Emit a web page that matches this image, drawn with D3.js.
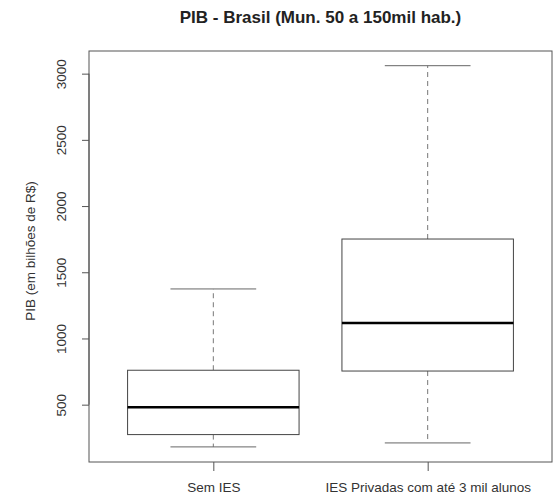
<!DOCTYPE html>
<html>
<head>
<meta charset="utf-8">
<script src="https://cdn.jsdelivr.net/npm/d3@7"></script>
<style>
  body { margin: 0; background: white; }
  text { font-family: "Liberation Sans", Arial, sans-serif; fill: #222; }
</style>
</head>
<body>
<script>
// Data
const categories = ['Sem IES', 'IES Privadas com até 3 mil alunos']
const whiskerLow = [181, 211]
const q1 = [274, 754]
const medians = [480, 1117]
const q3 = [760, 1751]
const whiskerHigh = [1374, 3060]
const yTicks = [500, 1000, 1500, 2000, 2500, 3000]

const W = 558, H = 498
const margin = { top: 51, right: 6, bottom: 36, left: 89 }
const width = W - margin.left - margin.right
const height = H - margin.top - margin.bottom
const font = '"Liberation Sans", Arial, sans-serif'

const svg = d3.select('body').append('svg')
    .attr('width', W)
    .attr('height', H)

const g = svg.append('g')
    .attr('transform', `translate(${margin.left} ${margin.top})`)

// Scales (R style, 4% padding)
const xScale = d3.scaleLinear()
    .domain([0.42, 2.58])
    .range([0, width])

const yScale = d3.scaleLinear()
    .domain([67, 3171])
    .range([height, 0])

const boxW = xScale(1.4) - xScale(1)
const capW = xScale(1.2) - xScale(1)

// Plot frame
g.append('rect')
    .attr('x', 0).attr('y', 0)
    .attr('width', width).attr('height', height)
    .style('fill', 'none')
    .style('stroke', '#555')
    .style('stroke-width', 1)

// y axis
const yAxis = g.append('g')
    .call(d3.axisLeft(yScale).tickValues(yTicks).tickSize(7).tickFormat(d3.format('d')))
yAxis.select('.domain').attr('d', `M0,${yScale(500)}V${yScale(3000)}`).style('stroke', '#555')
yAxis.selectAll('.tick line').style('stroke', '#555')
yAxis.selectAll('.tick text')
    .attr('transform', 'rotate(-90)')
    .attr('x', 0).attr('y', -23)
    .attr('dy', '0')
    .style('text-anchor', 'middle')
    .style('font-size', '13.5px')
    .style('font-family', font)
    .style('fill', '#333')

// x axis
const xAxis = g.append('g')
    .attr('transform', `translate(0, ${height})`)
    .call(d3.axisBottom(xScale).tickValues([1, 2]).tickSize(9).tickPadding(11)
        .tickFormat((d, i) => categories[i]))
xAxis.select('.domain').remove()
xAxis.selectAll('.tick line').style('stroke', '#555')
xAxis.selectAll('.tick text')
    .style('font-size', '13.5px')
    .style('font-family', font)
    .style('fill', '#333')

// Boxes
const boxes = g.selectAll('.box')
    .data(categories)
    .enter().append('g')
    .attr('class', 'box')

boxes.append('line')
    .attr('x1', (d, i) => xScale(i + 1)).attr('x2', (d, i) => xScale(i + 1))
    .attr('y1', (d, i) => yScale(q3[i])).attr('y2', (d, i) => yScale(whiskerHigh[i]))
    .style('stroke', '#777').style('stroke-dasharray', '5,4')
boxes.append('line')
    .attr('x1', (d, i) => xScale(i + 1)).attr('x2', (d, i) => xScale(i + 1))
    .attr('y1', (d, i) => yScale(q1[i])).attr('y2', (d, i) => yScale(whiskerLow[i]))
    .style('stroke', '#777').style('stroke-dasharray', '5,4')

boxes.append('line')
    .attr('x1', (d, i) => xScale(i + 1) - capW).attr('x2', (d, i) => xScale(i + 1) + capW)
    .attr('y1', (d, i) => yScale(whiskerHigh[i])).attr('y2', (d, i) => yScale(whiskerHigh[i]))
    .style('stroke', '#666')
boxes.append('line')
    .attr('x1', (d, i) => xScale(i + 1) - capW).attr('x2', (d, i) => xScale(i + 1) + capW)
    .attr('y1', (d, i) => yScale(whiskerLow[i])).attr('y2', (d, i) => yScale(whiskerLow[i]))
    .style('stroke', '#666')

boxes.append('rect')
    .attr('x', (d, i) => xScale(i + 1) - boxW)
    .attr('y', (d, i) => yScale(q3[i]))
    .attr('width', boxW * 2)
    .attr('height', (d, i) => yScale(q1[i]) - yScale(q3[i]))
    .style('fill', 'white')
    .style('stroke', '#444')
    .style('stroke-width', 1)

boxes.append('line')
    .attr('x1', (d, i) => xScale(i + 1) - boxW).attr('x2', (d, i) => xScale(i + 1) + boxW)
    .attr('y1', (d, i) => yScale(medians[i])).attr('y2', (d, i) => yScale(medians[i]))
    .style('stroke', '#000').style('stroke-width', 2.5)

// Title and axis label
svg.append('text')
    .attr('x', margin.left + width / 2).attr('y', 23)
    .attr('text-anchor', 'middle')
    .style('font-size', '17px').style('font-weight', 'bold')
    .text('PIB - Brasil (Mun. 50 a 150mil hab.)')

svg.append('text')
    .attr('transform', `translate(35 ${yScale(1660) + margin.top}) rotate(-90)`)
    .attr('text-anchor', 'middle')
    .style('font-size', '13.5px')
    .style('fill', '#333')
    .text('PIB (em bilhões de R$)')
</script>
</body>
</html>
